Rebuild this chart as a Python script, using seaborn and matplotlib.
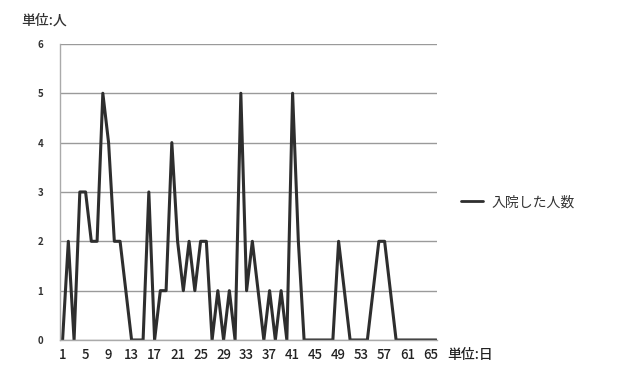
import matplotlib
matplotlib.use("Agg")
import matplotlib.pyplot as plt
import numpy as np
import pandas as pd
import seaborn as sns

# Daily admissions (人) for days 1..66
days = list(range(1, 67))
admissions = [
    0, 2, 0, 3, 3, 2, 2, 5, 4, 2,
    2, 1, 0, 0, 0, 3, 0, 1, 1, 4,
    2, 1, 2, 1, 2, 2, 0, 1, 0, 1,
    0, 5, 1, 2, 1, 0, 1, 0, 1, 0,
    5, 2, 0, 0, 0, 0, 0, 0, 2, 1,
    0, 0, 0, 0, 1, 2, 2, 1, 0, 0,
    0, 0, 0, 0, 0, 0,
]
x_tick_labels = list(range(1, 67, 4))
y_ticks = [0, 1, 2, 3, 4, 5, 6]
series_name = "入院した人数"
y_unit = "単位:人"
x_unit = "単位:日"

sns.set_style("white")
plt.rcParams["font.family"] = ["Noto Sans CJK JP", "DejaVu Sans"]

df = pd.DataFrame({"day": days, "count": admissions})

fig = plt.figure(figsize=(6.21, 3.72), dpi=100)
ax = fig.add_axes([0.0966, 0.086, 0.607, 0.796])

sns.lineplot(data=df, x="day", y="count", ax=ax, color="#2e2e2e",
             linewidth=2.2, label=series_name)

ax.set_xlim(0.55, 66.1)
ax.set_ylim(0, 6)
ax.set_yticks(y_ticks)
ax.set_yticklabels([str(v) for v in y_ticks], fontsize=7, fontweight="bold",
                   color="#333333")
ax.set_xticks(x_tick_labels)
ax.set_xticklabels([str(v) for v in x_tick_labels], fontsize=9.5,
                   fontweight="medium", color="#222222")
ax.set_xticks(days, minor=True)
ax.tick_params(axis="x", which="both", direction="out", length=3,
               color="#999999", pad=3)
ax.tick_params(axis="y", which="major", length=4, color="#999999", pad=8)
ax.set_xlabel("")
ax.set_ylabel("")

ax.grid(axis="y", color="#9a9a9a", linewidth=1.0)
ax.set_axisbelow(True)
for side in ("top", "right"):
    ax.spines[side].set_visible(False)
for side in ("left", "bottom"):
    ax.spines[side].set_color("#aaaaaa")
    ax.spines[side].set_linewidth(1.0)

leg = ax.legend(loc="center left", bbox_to_anchor=(1.03, 0.465), frameon=False,
                fontsize=10, handlelength=1.6, handletextpad=0.6)
for line in leg.get_lines():
    line.set_linewidth(2.0)
for txt in leg.get_texts():
    txt.set_color("#333333")

fig.text(0.035, 0.945, y_unit, fontsize=10, fontweight="medium",
         color="#333333", va="center")
fig.text(0.72, 0.045, x_unit, fontsize=10, fontweight="medium",
         color="#222222", va="center")

fig.savefig("out.png", dpi=100)
